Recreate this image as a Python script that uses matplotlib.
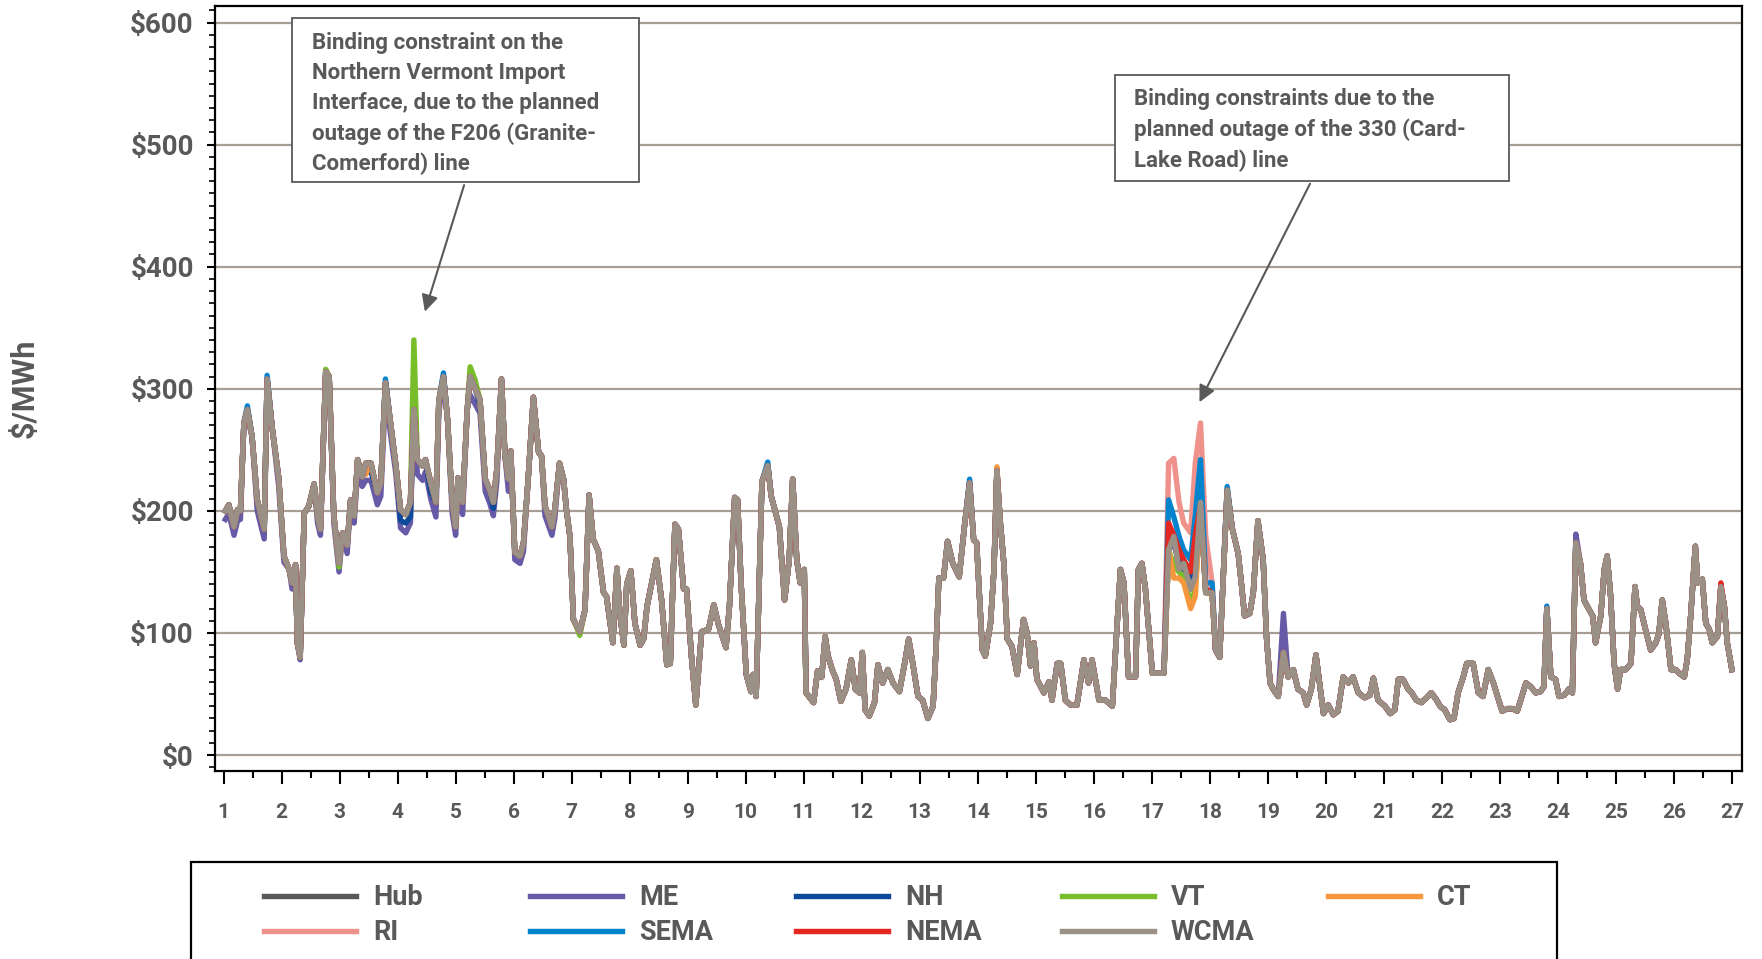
import matplotlib
matplotlib.use("Agg")
import matplotlib.pyplot as plt
from matplotlib.ticker import MultipleLocator, FuncFormatter
from matplotlib.patches import Rectangle

plt.rcParams["font.family"] = ["Roboto", "DejaVu Sans"]
plt.rcParams["font.weight"] = "bold"

TXT = "#595959"

# day of month (hourly turning points) and the WCMA price, $/MWh
DAYS = [
    1.03, 1.09, 1.18, 1.24, 1.29, 1.35, 1.41, 1.49, 1.58, 1.70, 1.75, 1.84, 1.95,
    2.04, 2.13, 2.18, 2.24, 2.27, 2.32, 2.39, 2.47, 2.56, 2.62, 2.67, 2.76, 2.82, 2.90, 2.99,
    3.05, 3.13, 3.19, 3.25, 3.31, 3.39, 3.45, 3.54, 3.65, 3.71, 3.79, 3.88, 3.97,
    4.05, 4.14, 4.22, 4.28, 4.34, 4.43, 4.48, 4.57, 4.66, 4.71, 4.79, 4.86, 4.94,
    5.00, 5.04, 5.12, 5.20, 5.25, 5.33, 5.42, 5.51, 5.59, 5.65, 5.71, 5.79, 5.85, 5.91, 5.95,
    6.02, 6.11, 6.17, 6.25, 6.34, 6.43, 6.48, 6.54, 6.66, 6.71, 6.79, 6.86, 6.91, 6.97,
    7.03, 7.14, 7.23, 7.30, 7.37, 7.46, 7.55, 7.60, 7.71, 7.78, 7.83, 7.90, 7.95,
    8.02, 8.09, 8.18, 8.24, 8.30, 8.38, 8.46, 8.55, 8.64, 8.70, 8.78, 8.84, 8.93, 8.98,
    9.07, 9.14, 9.24, 9.36, 9.45, 9.53, 9.66, 9.72, 9.81, 9.86, 9.92,
    10.01, 10.09, 10.13, 10.18, 10.28, 10.38, 10.44, 10.58, 10.67, 10.75, 10.81, 10.88, 10.94,
    11.01, 11.04, 11.17, 11.24, 11.31, 11.37, 11.42, 11.49, 11.56, 11.64, 11.73, 11.82, 11.89, 11.96,
    12.01, 12.06, 12.13, 12.22, 12.28, 12.36, 12.45, 12.54, 12.65, 12.74, 12.81, 12.88, 12.97,
    13.05, 13.14, 13.23, 13.28, 13.33, 13.41, 13.48, 13.57, 13.68, 13.77, 13.86, 13.93, 13.98,
    14.08, 14.13, 14.22, 14.28, 14.33, 14.39, 14.45, 14.51, 14.59, 14.68, 14.79, 14.85, 14.91, 14.97,
    15.02, 15.14, 15.23, 15.28, 15.37, 15.43, 15.51, 15.60, 15.71, 15.83, 15.91, 15.97,
    16.09, 16.20, 16.32, 16.38, 16.46, 16.52, 16.60, 16.72, 16.77, 16.83, 16.89,
    17.01, 17.12, 17.21, 17.29, 17.38, 17.47, 17.55, 17.67, 17.75, 17.84, 17.93,
    18.04, 18.10, 18.17, 18.30, 18.39, 18.49, 18.55, 18.60, 18.69, 18.75, 18.83, 18.92, 18.98,
    19.04, 19.09, 19.18, 19.27, 19.35, 19.44, 19.52, 19.61, 19.67, 19.75, 19.83, 19.90, 19.96,
    20.04, 20.13, 20.21, 20.30, 20.39, 20.47, 20.56, 20.67, 20.76, 20.82, 20.90,
    21.02, 21.11, 21.19, 21.25, 21.33, 21.42, 21.48, 21.56, 21.65, 21.74, 21.82, 21.91, 21.97,
    22.05, 22.14, 22.21, 22.28, 22.37, 22.43, 22.54, 22.63, 22.71, 22.80, 22.89, 22.96,
    23.04, 23.13, 23.22, 23.30, 23.36, 23.45, 23.53, 23.62, 23.70, 23.76, 23.81, 23.88, 23.96,
    24.02, 24.11, 24.19, 24.25, 24.31, 24.39, 24.45, 24.54, 24.60, 24.65, 24.74, 24.80, 24.85, 24.91, 24.97,
    25.03, 25.08, 25.17, 25.26, 25.33, 25.37, 25.43, 25.51, 25.60, 25.69, 25.74, 25.80, 25.86, 25.95,
    26.03, 26.09, 26.18, 26.23, 26.29, 26.37, 26.41, 26.49, 26.55, 26.61, 26.66, 26.75, 26.81, 26.87, 26.92,
    27.00,
]
WCMA = [
    200, 205, 187, 201, 200, 272, 283, 261, 209, 185, 308, 267, 227,
    163, 152, 141, 156, 92, 80, 198, 204, 222, 196, 185, 314, 310, 196, 157,
    182, 172, 209, 196, 242, 228, 239, 239, 215, 223, 305, 271, 237,
    201, 197, 207, 283, 242, 237, 242, 223, 207, 290, 310, 275, 207,
    187, 227, 207, 283, 310, 301, 291, 226, 217, 207, 234, 308, 245, 226, 249,
    166, 163, 174, 226, 293, 248, 245, 204, 187, 201, 239, 226, 201, 179,
    111, 101, 119, 213, 177, 167, 133, 130, 92, 153, 116, 90, 140,
    151, 108, 90, 95, 122, 141, 160, 127, 74, 75, 189, 185, 136, 136,
    78, 41, 101, 103, 123, 107, 88, 122, 211, 209, 141,
    66, 52, 66, 48, 224, 237, 212, 187, 127, 160, 226, 160, 141,
    152, 51, 43, 69, 64, 97, 81, 70, 62, 44, 54, 78, 54, 51,
    84, 37, 32, 43, 74, 59, 70, 59, 52, 75, 95, 75, 48,
    45, 30, 40, 86, 145, 145, 175, 157, 146, 187, 223, 176, 174,
    86, 81, 108, 152, 233, 190, 157, 95, 89, 66, 111, 100, 73, 92,
    62, 51, 60, 45, 75, 75, 45, 41, 41, 78, 59, 78,
    45, 45, 40, 89, 152, 141, 64, 64, 152, 157, 136,
    67, 67, 67, 168, 179, 152, 157, 136, 146, 207, 133,
    133, 86, 80, 217, 185, 165, 138, 114, 116, 133, 192, 160, 95,
    59, 54, 48, 84, 64, 70, 54, 51, 41, 54, 82, 56, 34,
    41, 33, 36, 64, 59, 64, 51, 47, 49, 63, 45,
    40, 34, 37, 62, 62, 54, 51, 45, 43, 47, 51, 45, 40,
    37, 29, 30, 51, 64, 75, 75, 51, 48, 70, 59, 48,
    36, 38, 38, 36, 45, 59, 56, 51, 52, 56, 120, 64, 62,
    48, 49, 54, 51, 174, 157, 127, 119, 114, 92, 114, 152, 163, 130, 75,
    54, 70, 70, 75, 138, 122, 119, 103, 86, 92, 99, 127, 108, 70,
    70, 67, 64, 78, 114, 171, 141, 144, 108, 103, 92, 97, 138, 122, 92,
    70,
]

# points where a zone departs from the WCMA trace
HUB_DIFF = {}
ME_DIFF = {
    1.03: 193, 1.09: 198, 1.18: 180, 1.24: 192, 1.29: 193, 1.41: 276, 1.58: 200,
    1.70: 177, 1.95: 220, 2.04: 158, 2.18: 136, 2.32: 78, 2.62: 190, 2.67: 180,
    2.90: 190, 2.99: 150, 3.13: 165, 3.25: 190, 3.31: 232, 3.39: 220, 3.45: 225,
    3.54: 225, 3.65: 205, 3.71: 212, 3.79: 295, 3.88: 262, 3.97: 230, 4.05: 186,
    4.14: 182, 4.22: 190, 4.34: 230, 4.43: 225, 4.48: 232, 4.57: 210, 4.66: 195,
    4.71: 280, 4.94: 198, 5.00: 180, 5.04: 218, 5.12: 197, 5.25: 295, 5.33: 288,
    5.42: 280, 5.51: 216, 5.59: 206, 5.65: 196, 5.71: 224, 5.91: 216, 6.02: 160,
    6.11: 157, 6.17: 167, 6.54: 196, 6.66: 180, 6.71: 194, 19.27: 116, 24.31: 181,
}
NH_DIFF = {
    3.45: 232, 3.54: 232, 4.05: 192, 4.14: 190, 4.22: 195, 4.57: 215, 5.42: 287,
    5.65: 202, 17.29: 180, 17.38: 172, 17.47: 160, 17.55: 152, 17.67: 140,
    17.75: 170, 17.84: 205,
}
VT_DIFF = {
    2.76: 316, 2.99: 154, 4.28: 340, 5.25: 318, 5.33: 308, 7.14: 98,
    17.38: 155, 17.47: 150, 17.55: 146, 17.67: 125, 17.75: 135,
}
CT_DIFF = {3.45: 230, 14.33: 236, 17.38: 145, 17.47: 145, 17.55: 141, 17.67: 120, 17.75: 130}
RI_DIFF = {
    5.65: 213, 17.29: 239, 17.38: 243, 17.47: 207, 17.55: 190, 17.67: 182,
    17.75: 239, 17.84: 272, 17.93: 179, 18.04: 141,
}
SEMA_DIFF = {
    1.41: 286, 1.75: 311, 3.79: 308, 4.79: 313, 10.38: 240, 13.86: 226,
    17.29: 209, 17.38: 195, 17.47: 179, 17.55: 168, 17.67: 160, 17.75: 196,
    17.84: 242, 17.93: 141, 18.04: 141, 18.30: 220, 23.81: 122,
}
NEMA_DIFF = {
    17.29: 190, 17.38: 180, 17.47: 168, 17.55: 160, 17.67: 150, 17.75: 180,
    17.84: 205, 17.93: 136, 26.81: 141,
}
WCMA_DIFF = {}

ZONES = ["Hub", "ME", "NH", "VT", "CT", "RI", "SEMA", "NEMA", "WCMA"]
DIFFS = [HUB_DIFF, ME_DIFF, NH_DIFF, VT_DIFF, CT_DIFF, RI_DIFF, SEMA_DIFF, NEMA_DIFF, WCMA_DIFF]
COLORS = ["#595959", "#675BA7", "#0E4A9B", "#77BE2A", "#F7973D",
          "#F0928C", "#0584CE", "#E42720", "#9A9085"]

fig = plt.figure(figsize=(17.62, 9.59), dpi=100)
ax = fig.add_axes([0.1218, 0.196, 0.8667, 0.7977])

lines = {}
for name, diff, col in zip(ZONES, DIFFS, COLORS):
    vals = [diff.get(d, v) for d, v in zip(DAYS, WCMA)]
    ln, = ax.plot(DAYS, vals, color=col, lw=3.9, label=name)
    lines[name] = ln

ax.set_xlim(0.845, 27.17)
ax.set_ylim(-13.1, 613.5)
ax.set_xticks(range(1, 28))
ax.xaxis.set_minor_locator(MultipleLocator(0.5))
ax.yaxis.set_major_locator(MultipleLocator(100))
ax.yaxis.set_minor_locator(MultipleLocator(10))
ax.yaxis.set_major_formatter(FuncFormatter(lambda v, p: f"${v:.0f}"))

ax.tick_params(axis="y", which="major", length=6, width=1.5, pad=9, labelsize=20, labelcolor=TXT)
ax.tick_params(axis="y", which="minor", length=4, width=1.2)
ax.tick_params(axis="x", which="major", length=9, width=1.5, pad=14, labelsize=15, labelcolor=TXT)
ax.tick_params(axis="x", which="minor", length=5, width=1.5)

ax.grid(axis="y", which="major", color="#A69E95", lw=1.6)
ax.set_axisbelow(True)
for s in ax.spines.values():
    s.set_linewidth(1.6)
    s.set_color("black")

fig.text(25 / 1762, 1 - 388 / 959, "$/MWh", rotation=90, ha="center", va="center",
         fontsize=22, color=TXT)

# annotation boxes
box_kw = dict(facecolor="white", edgecolor=TXT, lw=1.3, zorder=6)
ax.add_patch(Rectangle((2.18, 469), 5.98, 135, **box_kw))
ax.text(2.52, 592, "Binding constraint on the\nNorthern Vermont Import\nInterface, due to the planned\n"
        "outage of the F206 (Granite-\nComerford) line",
        ha="left", va="top", fontsize=16, color=TXT, linespacing=1.46, zorder=7)
ax.annotate("", xy=(4.455, 361), xytext=(5.16, 469),
            arrowprops=dict(arrowstyle="-|>", color=TXT, lw=1.5, mutation_scale=25), zorder=7)

ax.add_patch(Rectangle((16.37, 470), 6.79, 87, **box_kw))
ax.text(16.69, 546, "Binding constraints due to the\nplanned outage of the 330 (Card-\nLake Road) line",
        ha="left", va="top", fontsize=16, color=TXT, linespacing=1.46, zorder=7)
ax.annotate("", xy=(17.80, 287), xytext=(19.75, 470),
            arrowprops=dict(arrowstyle="-|>", color=TXT, lw=1.5, mutation_scale=25), zorder=7)

# legend frame, runs off the bottom of the figure
fig.patches.append(Rectangle((191 / 1762, -0.05), 1366 / 1762, 0.05 + 1 - 862 / 959,
                             transform=fig.transFigure, fill=False, edgecolor="black", lw=1.6))

columns = [["Hub", "RI"], ["ME", "SEMA"], ["NH", "NEMA"], ["VT", "WCMA"], ["CT"]]
for i, names in enumerate(columns):
    x = (264 + 266 * i) / 1762
    fig.legend([lines[n] for n in names], names, loc="upper left", bbox_to_anchor=(x, 1 - 884 / 959),
               frameon=False, borderpad=0, borderaxespad=0, handlelength=3.4, handletextpad=0.62,
               labelspacing=0.3, fontsize=19.5, labelcolor=TXT)

fig.savefig("out.png", dpi=100)
